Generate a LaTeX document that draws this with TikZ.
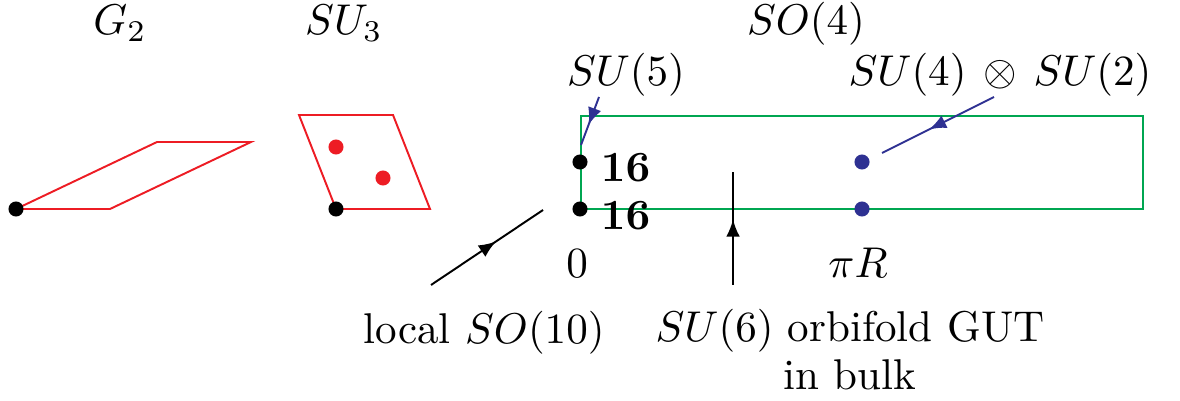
\documentclass[tikz,border=0pt]{standalone}
\usepackage{amsmath}
\usetikzlibrary{arrows.meta,decorations.markings}
\definecolor{orbired}{RGB}{237,28,36}
\definecolor{bulkgreen}{RGB}{0,166,81}
\definecolor{fixblue}{RGB}{46,49,146}
\tikzset{
    cell/.style={
        draw=orbired,             % celda del toro en rojo
        line width=0.45pt         % trazo fino
    },
    fixpt/.style={
        circle,                   % punto fijo: círculo relleno
        fill=#1,
        inner sep=0pt,
        minimum size=3.5pt
    },
    lbl/.style={
        anchor=base,              % se coloca por la línea base del texto
        inner sep=0pt
    },
    midarrow/.style={
        line width=0.45pt,
        postaction={decorate},    % punta de flecha a mitad del trazo
        decoration={markings,
            mark=at position 0.58 with {\arrow{Latex[length=4pt,width=3.2pt]}}}
    }
}
\begin{document}
\begin{tikzpicture}[x=0.00817cm, y=-0.00817cm]
    \useasboundingbox (0,0) rectangle (1180,401);

    \node[lbl] (g2) at (120,35) {$G_2$};
    \node[lbl] (su3) at (344,35) {$SU_3$};
    \node[lbl] (so4) at (806,35) {$SO(4)$};
    \node[lbl] (su5) at (626,86) {$SU(5)$};
    \node[lbl] (su42) at (1000,86) {$SU(4)\mskip3mu\otimes\mskip3mu SU(2)$};

    \draw[cell] (16,209) -- (110,209) -- (251,142) -- (157,142) -- cycle;
    \draw[cell] (336,209) -- (430,209) -- (393,115) -- (299,115) -- cycle;
    \node[fixpt=black] (ga) at (16,209) {};
    \node[fixpt=black] (sa) at (336,209) {};
    \node[fixpt=orbired] (ra) at (336,147) {};
    \node[fixpt=orbired] (rb) at (383,178) {};

    \draw[bulkgreen, line width=0.45pt] (581,116) rectangle (1143,209);
    \node[fixpt=black] (za) at (580,162) {};
    \node[fixpt=black] (zb) at (580,209) {};
    \node[fixpt=fixblue] (pa) at (862,162) {};
    \node[fixpt=fixblue] (pb) at (862,209) {};
    \node[lbl, anchor=base west] (sxa) at (600,182) {$\mathbf{16}$};
    \node[lbl, anchor=base west] (sxb) at (600,230) {$\mathbf{16}$};
    \node[lbl] (zero) at (577,278) {$0$};
    \node[lbl] (piR) at (858,278) {$\pi R$};

    \node[lbl] (so10) at (484,343) {local $SO(10)$};
    \node[lbl, align=center] (su6) at (850,389) {$SU(6)$ orbifold GUT\\[-1pt]in bulk};

    \coordinate (su5a) at (599,97);
    \coordinate (su5b) at (581,145);
    \coordinate (su42a) at (994,97);
    \coordinate (su42b) at (882,153);
    \coordinate (so10a) at (431,285);
    \coordinate (so10b) at (543,210);
    \coordinate (su6a) at (733,285);
    \coordinate (su6b) at (733,172);

    \draw[midarrow, fixblue] (su5a) -- (su5b);
    \draw[midarrow, fixblue] (su42a) -- (su42b);
    \draw[midarrow] (so10a) -- (so10b);
    \draw[midarrow] (su6a) -- (su6b);
\end{tikzpicture}
\end{document}
